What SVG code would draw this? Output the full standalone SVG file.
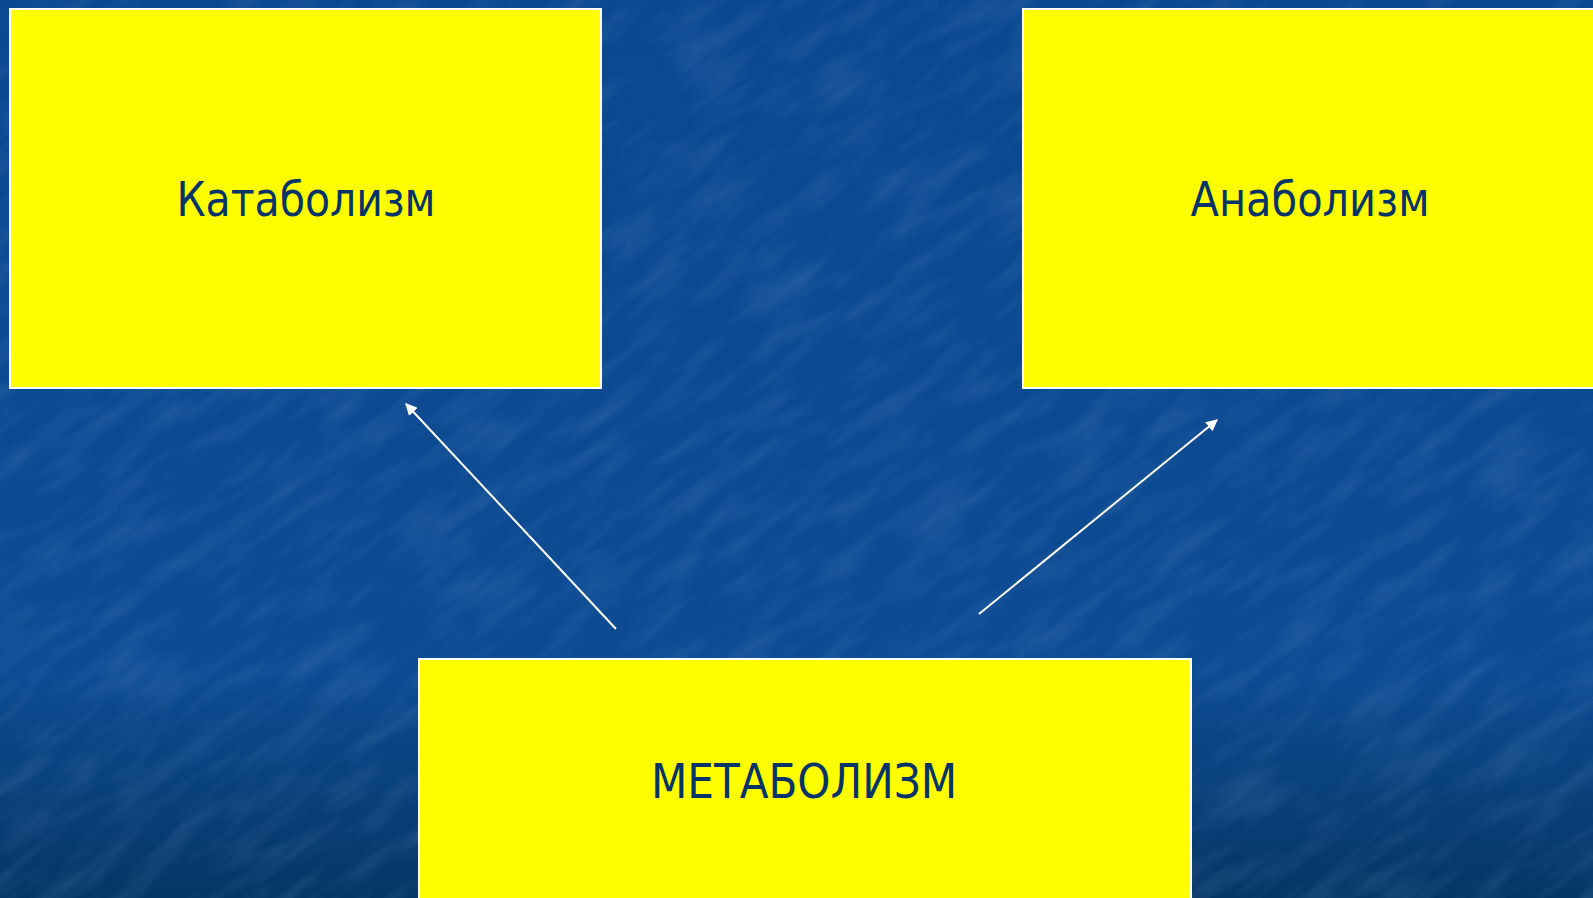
<svg xmlns="http://www.w3.org/2000/svg" width="1593" height="898" viewBox="0 0 1593 898">
  <style>
    .box { fill: #ffff00; stroke: #ffffff; stroke-width: 2; }
    .label { font-family: "DejaVu Sans Condensed", "DejaVu Sans", "Liberation Sans", sans-serif; font-size: 48px; fill: #063468; text-anchor: middle; }
    .conn { stroke: #ffffff; stroke-width: 2; fill: none; marker-end: url(#arrow); }
  </style>
  <defs>
    <linearGradient id="bg" x1="0" y1="0" x2="0" y2="1">
      <stop offset="0" stop-color="#0b4890"/>
      <stop offset="0.75" stop-color="#0d4b93"/>
      <stop offset="1" stop-color="#053765"/>
    </linearGradient>
    <filter id="tex" x="0" y="0" width="100%" height="100%">
      <feTurbulence type="fractalNoise" baseFrequency="0.012 0.05" numOctaves="3" seed="4" result="n"/>
      <feColorMatrix in="n" type="matrix" values="0 0 0 0 0.45  0 0 0 0 0.65  0 0 0 0 1  0 0 0 1.1 -0.45" result="c"/>
      <feComposite in="c" in2="SourceGraphic" operator="in"/>
    </filter>
    <marker id="arrow" viewBox="0 0 10 10" refX="9" refY="5" markerWidth="6" markerHeight="6" orient="auto" markerUnits="strokeWidth">
      <path d="M0,0 L10,5 L0,10 z" fill="#ffffff"/>
    </marker>
  </defs>
  <rect x="0" y="0" width="1593" height="898" fill="url(#bg)"/>
  <g transform="rotate(-35 796 449)" opacity="0.22">
    <rect x="-600" y="-700" width="2800" height="2300" fill="#000" filter="url(#tex)"/>
  </g>

  <g id="connectors">
    <line class="conn" x1="616" y1="629" x2="406" y2="404"/>
    <line class="conn" x1="979" y1="614" x2="1217" y2="420"/>
  </g>

  <g id="node-katabolizm">
    <rect class="box" x="10" y="9" width="591" height="379"/>
    <text class="label" x="306" y="216" textLength="259" lengthAdjust="spacingAndGlyphs">Катаболизм</text>
  </g>

  <g id="node-anabolizm">
    <rect class="box" x="1023" y="9" width="575" height="379"/>
    <text class="label" x="1310" y="216" textLength="239" lengthAdjust="spacingAndGlyphs">Анаболизм</text>
  </g>

  <g id="node-metabolizm">
    <rect class="box" x="419" y="659" width="772" height="250"/>
    <text class="label" x="804" y="798" textLength="306" lengthAdjust="spacingAndGlyphs">МЕТАБОЛИЗМ</text>
  </g>
</svg>
